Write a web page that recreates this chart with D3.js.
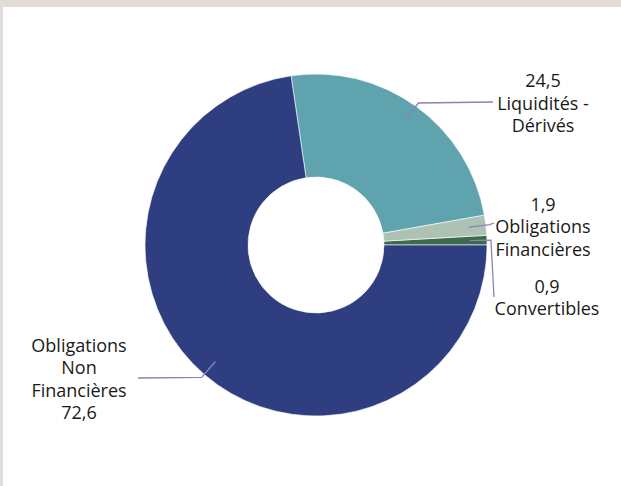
<!DOCTYPE html>
<html>
<head>
<meta charset="utf-8">
<script src="https://cdn.jsdelivr.net/npm/d3@7"></script>
<style>
  html, body { margin: 0; padding: 0; background: #E2DCD7; }
  svg { display: block; }
  .label { font-family: "Open Sans", "Liberation Sans", sans-serif; font-size: 18px; fill: #1a1a1a; }
  .leader { fill: none; stroke: #8C84AE; stroke-width: 1.3; }
</style>
</head>
<body>
<div id="vis"></div>
<script>
// data, in drawing order (counterclockwise from 3 o'clock)
var categories = ["Convertibles", "Obligations Financières", "Liquidités - Dérivés", "Obligations Non Financières"];
var values = [0.9, 1.9, 24.5, 72.6];
var valueLabels = ["0,9", "1,9", "24,5", "72,6"];
var colors = ["#3D6A4B", "#ADC2B5", "#5FA3AE", "#2F3E80"];

// label text lines, one array per category
var labelLines = [
  ["0,9", "Convertibles"],
  ["1,9", "Obligations", "Financières"],
  ["24,5", "Liquidités -", "Dérivés"],
  ["Obligations", "Non", "Financières", "72,6"]
];

var width = 621, height = 486;
var cx = 316, cy = 245;
var outerR = 171, innerR = 68;
var lineH = 22.5;

// where each leader line ends, and where its text block sits
var labelLayout = [
  {end: [494, 297], tx: 547, ty: 292.7},
  {end: [494, 223], tx: 543, ty: 210.7},
  {end: [493, 102], tx: 543, ty: 87},
  {end: [138, 378], tx: 79, ty: 351.7}
];

var svg = d3.select("#vis").append("svg")
  .attr("width", width)
  .attr("height", height);

// white panel, the grey shows only at top and left
svg.append("rect")
  .attr("x", 3)
  .attr("y", 7)
  .attr("width", width - 3)
  .attr("height", height - 7)
  .attr("fill", "#ffffff");

var pie = d3.pie()
  .sort(null)
  .value(function(d) { return d; })
  .startAngle(Math.PI / 2)
  .endAngle(Math.PI / 2 - 2 * Math.PI);

var arcs = pie(values);

var arc = d3.arc()
  .innerRadius(innerR)
  .outerRadius(outerR);

var g = svg.append("g")
  .attr("transform", "translate(" + cx + "," + cy + ")");

g.selectAll(".slice")
  .data(arcs).enter()
  .append("path")
  .attr("class", "slice")
  .attr("d", arc)
  .attr("fill", function(d, i) { return colors[i]; })
  .attr("stroke", "#ffffff")
  .attr("stroke-width", 0.6);

// point on the slice's mid angle at radius r (page coordinates)
function polar(d, r) {
  var a = (d.startAngle + d.endAngle) / 2;
  return [cx + r * Math.sin(a), cy - r * Math.cos(a)];
}

svg.selectAll(".leader")
  .data(arcs).enter()
  .append("polyline")
  .attr("class", "leader")
  .attr("points", function(d, i) {
    var p1 = polar(d, outerR * 0.9);
    var p2 = polar(d, outerR + 4);
    var p3 = labelLayout[i].end;
    return [p1, p2, p3].map(function(p) { return p.join(","); }).join(" ");
  });

var labels = svg.selectAll(".label")
  .data(labelLines).enter()
  .append("text")
  .attr("class", "label")
  .attr("text-anchor", "middle")
  .attr("transform", function(d, i) {
    return "translate(" + labelLayout[i].tx + "," + labelLayout[i].ty + ")";
  });

labels.selectAll("tspan")
  .data(function(d) { return d; }).enter()
  .append("tspan")
  .attr("x", 0)
  .attr("y", function(d, i) { return i * lineH; })
  .text(function(d) { return d; });
</script>
</body>
</html>
